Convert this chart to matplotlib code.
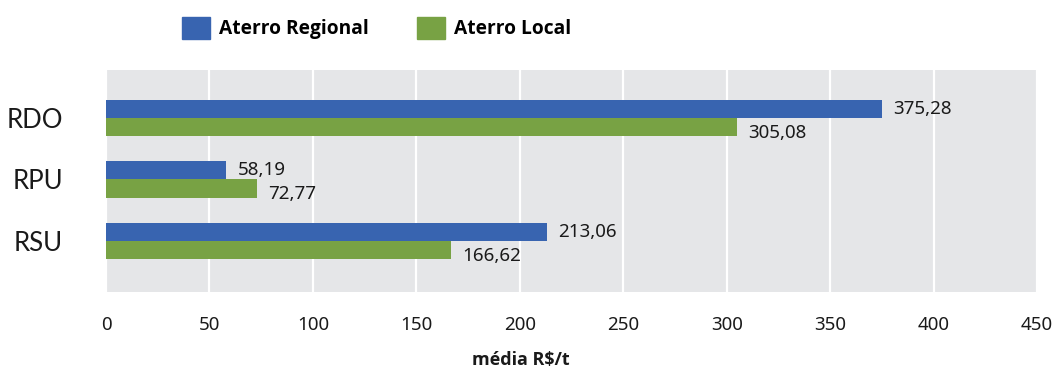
import matplotlib.pyplot as plt
from matplotlib.patches import Patch
import numpy as np

plt.rcParams['font.family'] = ['Noto Sans', 'DejaVu Sans']

categorias = ["RDO", "RPU", "RSU"]
regional = [375.28, 58.19, 213.06]
local = [305.08, 72.77, 166.62]
series_nomes = ["Aterro Regional", "Aterro Local"]
xticks = [0, 50, 100, 150, 200, 250, 300, 350, 400, 450]

azul = "#3864b0"
verde = "#78a244"
fundo = "#e5e6e8"
texto = "#1a1a1a"
negrito = ["Open Sans", "DejaVu Sans"]

def fmt(v):
    return f"{v:.2f}".replace(".", ",")

fig = plt.figure(figsize=(10.56, 3.70), dpi=100)
ax = fig.add_axes([106/1056, 1 - 292/370, (1037 - 106)/1056, (292 - 70)/370])
ax.set_facecolor(fundo)

y = np.arange(len(categorias))
h = 0.3
b1 = ax.barh(y - h/2, regional, height=h, color=azul, zorder=3)
b2 = ax.barh(y + h/2, local, height=h, color=verde, zorder=3)

for rect, v in zip(b1, regional):
    ax.annotate(fmt(v), (rect.get_width(), rect.get_y() + rect.get_height()/2),
                xytext=(8, 0), textcoords="offset points", va="center", ha="left",
                fontsize=13.5, color=texto)
for rect, v in zip(b2, local):
    ax.annotate(fmt(v), (rect.get_width(), rect.get_y() + rect.get_height()/2),
                xytext=(8, -4), textcoords="offset points", va="center", ha="left",
                fontsize=13.5, color=texto)

ax.set_xlim(0, 450)
ax.set_ylim(2.83, -0.78)
ax.set_xticks(xticks)
ax.set_xticklabels([str(t) for t in xticks])
ax.set_yticks(y)
ax.set_yticklabels(categorias, family=["Lato", "DejaVu Sans"])
ax.tick_params(axis="x", length=0, pad=17, labelsize=13.5, labelcolor=texto)
ax.tick_params(axis="y", length=0, pad=31, labelsize=18.5, labelcolor=texto)

ax.grid(axis="x", color="white", linewidth=1.6, zorder=0)
ax.set_axisbelow(True)
for s in ax.spines.values():
    s.set_visible(False)

fig.text(521/1056, 1 - 360/370, "média R$/t", ha="center", va="center",
         fontsize=13, fontweight="bold", family=negrito, color=texto)

handles = [Patch(color=azul), Patch(color=verde)]
fig.legend(handles, series_nomes, loc="center left", bbox_to_anchor=(182/1056, 1 - 28/370),
           ncol=2, frameon=False, borderpad=0, borderaxespad=0,
           handlelength=1.45, handleheight=1.45, handletextpad=0.5, columnspacing=2.5,
           prop={"weight": "bold", "size": 13.8, "family": negrito})

fig.savefig("out.png", dpi=100)
